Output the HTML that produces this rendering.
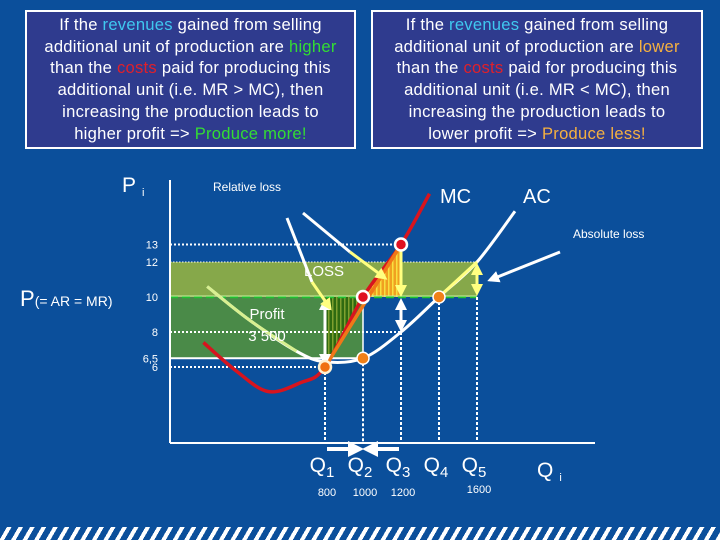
<!DOCTYPE html>
<html><head><meta charset="utf-8"><style>
html,body{margin:0;padding:0}
body{width:720px;height:540px;background:#0b4f9b;position:relative;overflow:hidden;font-family:"Liberation Sans",sans-serif;color:#fff}
.box{position:absolute;top:10px;height:133px;background:#2f3b8e;border:2px solid #fff;box-sizing:content-box;text-align:center;font-size:16.6px;letter-spacing:0.25px;line-height:21.7px;padding-top:2px;white-space:nowrap}
.cy{color:#3fc8f0}.gr{color:#33dd33}.rd{color:#e0202a}.or{color:#f5b040}
.stripe{position:absolute;left:0;top:527px;width:720px;height:13px;background:repeating-linear-gradient(-60deg,#fff 0 4px,#0b4f9b 4px 10px)}
svg{position:absolute;left:0;top:0}
</style></head><body>
<div class="box" style="left:25px;width:327px">If the <span class="cy">revenues</span> gained from selling<br>additional unit of production are <span class="gr">higher</span><br>than the <span class="rd">costs</span> paid for producing this<br>additional unit (i.e. MR &gt; MC), then<br>increasing the production leads to<br>higher profit =&gt; <span class="gr">Produce more!</span></div>
<div class="box" style="left:371px;width:328px">If the <span class="cy">revenues</span> gained from selling<br>additional unit of production are <span class="or">lower</span><br>than the <span class="rd">costs</span> paid for producing this<br>additional unit (i.e. MR &lt; MC), then<br>increasing the production leads to<br>lower profit =&gt; <span class="or">Produce less!</span></div>
<div class="stripe"></div>
<svg id="chart" width="720" height="540"></svg>
<script>
const priceTicks=[13,12,10,8,6.5,6];
const priceTickLabels=["13","12","10","8","6,5","6"];
const qValues=[800,1000,1200,1400,1600];
const qLabels=["800","1000","1200","","1600"];
const marketPrice=10;
const mcQ=[160,330,500,670,800,1000,1200,1350];
const mcP=[7.4,5.8,4.6,5.1,6,10,13,15.9];
const acQ=[180,400,650,800,1000,1200,1400,1600,1800];
const acP=[10.6,8.7,6.9,6.3,6.5,8,10,12,14.9];
const mcDots=[[800,6],[1000,10],[1200,13]];
const acDots=[[1000,6.5],[1400,10]];

const X=q=>325+(q-800)*0.19;
const Y=p=>297-(p-10)*17.5;
const svg=document.getElementById('chart');
const NS='http://www.w3.org/2000/svg';
function mk(tag,attrs,parent){const e=document.createElementNS(NS,tag);for(const k in attrs)e.setAttribute(k,attrs[k]);(parent||svg).appendChild(e);return e;}
function txt(x,y,s,size,anchor){const t=mk('text',{x:x,y:y,'font-size':size,fill:'#fff','text-anchor':anchor||'start','font-family':'Liberation Sans, sans-serif'});t.textContent=s;return t;}
function smooth(pts){let d='M'+pts[0][0]+','+pts[0][1];for(let i=0;i<pts.length-1;i++){const p0=pts[Math.max(0,i-1)],p1=pts[i],p2=pts[i+1],p3=pts[Math.min(pts.length-1,i+2)];d+=' C'+(p1[0]+(p2[0]-p0[0])/6)+','+(p1[1]+(p2[1]-p0[1])/6)+' '+(p2[0]-(p3[0]-p1[0])/6)+','+(p2[1]-(p3[1]-p1[1])/6)+' '+p2[0]+','+p2[1];}return d;}
const defs=mk('defs',{});
const pg=mk('pattern',{id:'hg',width:4,height:4,patternUnits:'userSpaceOnUse'},defs);
mk('rect',{width:4,height:4,fill:'#2f6a10'},pg);mk('rect',{width:1.5,height:4,fill:'#7fa030'},pg);
const po=mk('pattern',{id:'ho',width:4,height:4,patternUnits:'userSpaceOnUse'},defs);
mk('rect',{width:4,height:4,fill:'#f0a020'},po);mk('rect',{width:1.5,height:4,fill:'#f8e040'},po);
const ah=mk('marker',{id:'aw',markerWidth:4,markerHeight:4,refX:3,refY:2,orient:'auto'},defs);mk('path',{d:'M0,0 L4,2 L0,4 Z',fill:'#fff'},ah);
const ay=mk('marker',{id:'ay',markerWidth:4,markerHeight:4,refX:3,refY:2,orient:'auto'},defs);mk('path',{d:'M0,0 L4,2 L0,4 Z',fill:'#ffff80'},ay);

const x0=170,yAxis=443;
let r=mk('rect',{x:x0,y:Y(12),width:X(1600)-x0,height:Y(marketPrice)-Y(12),fill:'#86a84a'});
r=mk('rect',{x:x0,y:Y(marketPrice),width:X(1000)-x0,height:Y(6.5)-Y(marketPrice),fill:'#4a8a48'});
mk('line',{x1:x0,y1:Y(12),x2:X(1600),y2:Y(12),stroke:'#fff','stroke-width':1,'stroke-dasharray':'1.5 1.5'});
mk('line',{x1:x0,y1:Y(6.5),x2:X(1000),y2:Y(6.5),stroke:'#fff','stroke-width':2});
let tri=mk('polygon',{points:`${X(800)},${Y(10)} ${X(1000)},${Y(10)} ${X(800)},${Y(6)}`,fill:'url(#hg)'});
tri=mk('polygon',{points:`${X(1000)},${Y(10)} ${X(1200)},${Y(10)} ${X(1200)},${Y(13)}`,fill:'url(#ho)'});
let pl=mk('line',{x1:x0,y1:Y(marketPrice),x2:X(1600),y2:Y(marketPrice),stroke:'#20c030','stroke-width':2.5,'stroke-dasharray':'8 4'});
mk('line',{x1:x0,y1:Y(marketPrice)-1,x2:X(1600),y2:Y(marketPrice)-1,stroke:'#c8f0a0','stroke-width':1});
[[13,1200],[8,1200],[6,800]].forEach(([p,q])=>mk('line',{x1:x0,y1:Y(p),x2:X(q),y2:Y(p),stroke:'#fff','stroke-width':2,'stroke-dasharray':'2 2'}));
const vTop=[[800,6],[1000,6.5],[1200,8],[1400,10],[1600,10]];
vTop.forEach(([q,p])=>mk('line',{x1:X(q),y1:Y(p),x2:X(q),y2:yAxis,stroke:'#fff','stroke-width':2,'stroke-dasharray':'3 2'}));
mk('line',{x1:X(1000),y1:Y(10),x2:X(1000),y2:Y(6.5),stroke:'#fff','stroke-width':1.5});
let ax=mk('line',{x1:x0,y1:180,x2:x0,y2:yAxis,stroke:'#fff','stroke-width':2});
ax=mk('line',{x1:x0,y1:yAxis,x2:595,y2:yAxis,stroke:'#fff','stroke-width':2});
const acPts=acQ.map((q,i)=>[X(q),Y(acP[i])]);
let c=mk('path',{d:smooth(acPts),fill:'none',stroke:'#fff','stroke-width':3});
mk('path',{d:smooth(acPts.slice(0,3)),fill:'none',stroke:'#d8f090','stroke-width':3});
mk('line',{x1:X(1400),y1:Y(10),x2:X(1600),y2:Y(12),stroke:'#ffff80','stroke-width':3});
const mcPts=mcQ.map((q,i)=>[X(q),Y(mcP[i])]);
c=mk('path',{d:smooth(mcPts),fill:'none',stroke:'#d8141e','stroke-width':3.5});
mk('line',{x1:X(800),y1:Y(6),x2:X(1200),y2:Y(13),stroke:'#f07818','stroke-width':3.5});
function arrow(x1,y1,x2,y2,m,col,w){return mk('line',{x1,y1,x2,y2,stroke:col,'stroke-width':w||3,'marker-end':'url(#'+m+')'});}
arrow(X(800),Y(8.4),X(800),Y(10)+4,'aw','#fff');arrow(X(800),Y(8.4),X(800),Y(6)-4,'aw','#fff');
arrow(X(1200),Y(13)+4,X(1200),Y(10)-3,'ay','#ffff80');
arrow(X(1200),Y(9),X(1200),Y(10)+4,'aw','#fff');arrow(X(1200),Y(9),X(1200),Y(8)-3,'aw','#fff');
arrow(X(1600),Y(11),X(1600),Y(12)+4,'ay','#ffff80');arrow(X(1600),Y(11),X(1600),Y(10)-4,'ay','#ffff80');
mk('line',{x1:287,y1:218,x2:312,y2:282,stroke:'#fff','stroke-width':3});arrow(312,282,330,308,'ay','#ffff80');
mk('line',{x1:303,y1:213,x2:350,y2:252,stroke:'#fff','stroke-width':3});arrow(350,252,385,278,'ay','#ffff80');
arrow(560,252,490,280,'aw','#fff');
arrow(X(800)+2,449,X(1000)-3,449,'aw','#fff',4);arrow(X(1200)-2,449,X(1000)+3,449,'aw','#fff',4);
mcDots.forEach(([q,p],i)=>{const d=mk('circle',{cx:X(q),cy:Y(p),r:6,fill:i==0?'#f07010':'#e01020',stroke:i==0?'#fff0d0':'#fff',"stroke-width":2.5});});
acDots.forEach(([q,p])=>{const d=mk('circle',{cx:X(q),cy:Y(p),r:6,fill:'#f08018',stroke:'#fff','stroke-width':1.5});});
priceTicks.forEach((p,i)=>{const t=txt(158,Y(p)+4,priceTickLabels[i],11,'end');});
qValues.forEach((q,i)=>{if(qLabels[i]){const t=txt(X(q)+2,i==4?493:496,qLabels[i],11,'middle');}});
qValues.forEach((q,i)=>{const t=txt(X(q)-3,472,'Q',21,'middle');const s=mk('tspan',{'font-size':15,dy:5},t);s.textContent=String(i+1);});
let t=txt(122,192,'P',21);mk('tspan',{'font-size':11,dx:6,dy:4},t).textContent='i';
t=txt(537,477,'Q',21);mk('tspan',{'font-size':11,dx:6,dy:4},t).textContent='i';
t=txt(20,306,'P',22);mk('tspan',{'font-size':14},t).textContent='(= AR = MR)';
t=txt(213,191,'Relative loss',12);
t=txt(573,238,'Absolute loss',12);
t=txt(440,203,'MC',20);
t=txt(523,203,'AC',20);
t=txt(324,276,'LOSS',15,'middle');
t=txt(267,319,'Profit',15,'middle');
t=txt(267,341,'3 500',15,'middle');
</script>
</body></html>
